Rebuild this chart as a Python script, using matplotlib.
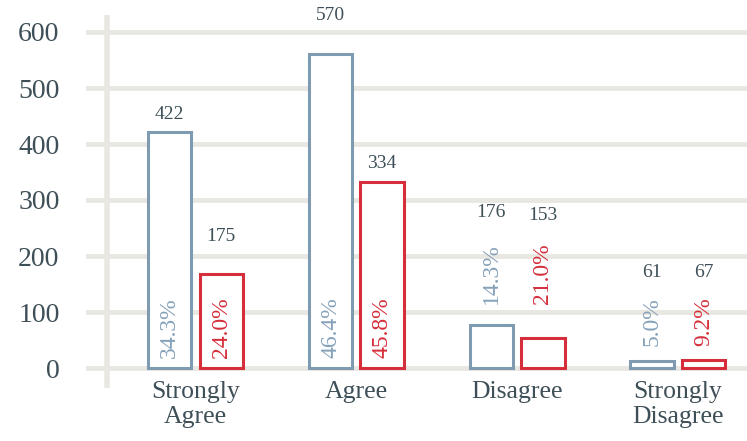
import matplotlib
matplotlib.use("Agg")
import matplotlib.pyplot as plt
import numpy as np

categories = ["Strongly\nAgree", "Agree", "Disagree", "Strongly\nDisagree"]
bar_a = [422, 560, 77, 12]          # blue bar heights as drawn
bar_b = [168, 332, 54, 14]          # red bar heights as drawn
count_a = ["422", "570", "176", "61"]
count_b = ["175", "334", "153", "67"]
count_a_y = [452, 630, 277, 170]
count_b_y = [234, 366, 273, 170]
pct_a = ["34.3%", "46.4%", "14.3%", "5.0%"]
pct_b = ["24.0%", "45.8%", "21.0%", "9.2%"]
pct_top_y = [127, 127, 223, 127]
yticks = [0, 100, 200, 300, 400, 500, 600]

blue = "#7f9bb2"
red = "#d52f3b"
blue_txt = "#86a2ba"
grid_c = "#e9e7e1"
dark = "#3e4f57"

plt.rcParams['font.family'] = ['Liberation Serif', 'DejaVu Serif']

W, H = 747, 441
fig = plt.figure(figsize=(W / 100, H / 100), dpi=100)
left_px, right_px, top_px, bot_px = 86, 747, 15, 388
ax = fig.add_axes([left_px / W, 1 - bot_px / H, (right_px - left_px) / W, (bot_px - top_px) / H])

x0, dx = 195.5, 160.8
ax.set_xlim((left_px - x0) / dx, (right_px - x0) / dx)
y0, sy = 368, 0.56
ax.set_ylim((y0 - bot_px) / sy, (y0 - top_px) / sy)

for s in ax.spines.values():
    s.set_visible(False)

for t in yticks:
    ax.axhline(t, color=grid_c, lw=3.5, zorder=0)
ax.axvline((107 - x0) / dx, color=grid_c, lw=4, zorder=0)

x = np.arange(len(categories))
w = 0.27
off = 0.16
ax.bar(x - off, bar_a, width=w, facecolor="white", edgecolor=blue, linewidth=2.2, zorder=2)
ax.bar(x + off, bar_b, width=w, facecolor="white", edgecolor=red, linewidth=2.2, zorder=2)

for i in range(len(categories)):
    ax.text(x[i] - off, count_a_y[i], count_a[i], ha="center", va="center", fontsize=14, color=dark, zorder=3, clip_on=False)
    ax.text(x[i] + off, count_b_y[i], count_b[i], ha="center", va="center", fontsize=14, color=dark, zorder=3, clip_on=False)
    ax.text(x[i] - off, pct_top_y[i], pct_a[i], ha="center", va="top", rotation=90, fontsize=17, color=blue_txt, zorder=3)
    ax.text(x[i] + off, pct_top_y[i], pct_b[i], ha="center", va="top", rotation=90, fontsize=17, color=red, zorder=3)
    ax.text(x[i], (y0 - 381) / sy, categories[i], ha="center", va="top", fontsize=18.5, color=dark, linespacing=1.2, clip_on=False)

ax.set_yticks(yticks)
ax.set_yticklabels([str(t) for t in yticks], fontsize=20, color=dark)
ax.tick_params(axis="y", length=0, pad=19)
ax.set_xticks([])

fig.savefig("out.png", dpi=100)
